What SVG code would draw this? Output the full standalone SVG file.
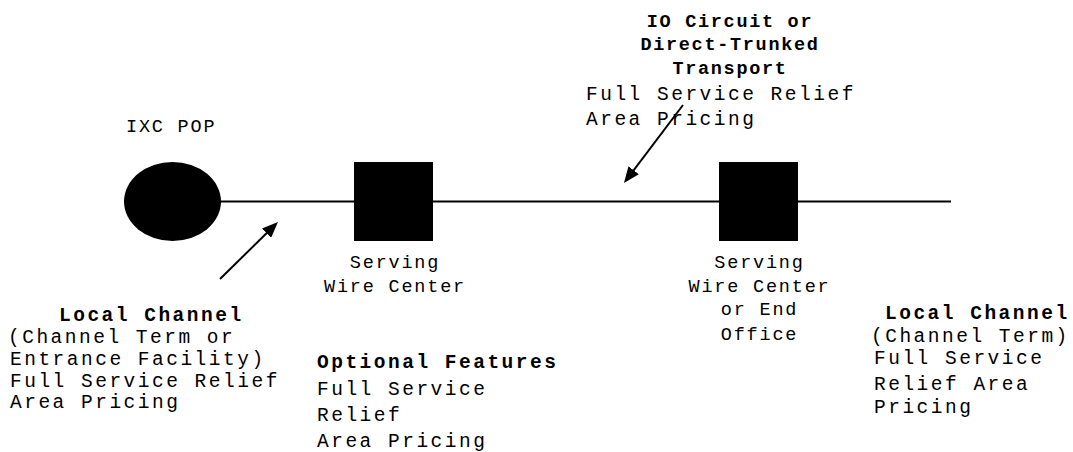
<svg xmlns="http://www.w3.org/2000/svg" width="1073" height="452" viewBox="0 0 1073 452">
<style>
  .body { font-family: "Liberation Mono", "Courier New", monospace; font-size: 19.5px; letter-spacing: 2.5px; fill: #000; }
  .bold { font-family: "Liberation Mono", "Courier New", monospace; font-size: 19.5px; letter-spacing: 2.5px; font-weight: bold; fill: #000; }
  .head { font-family: "Liberation Mono", "Courier New", monospace; font-size: 18.5px; letter-spacing: 1.7px; font-weight: bold; fill: #000; }
  .lbl { font-family: "Liberation Mono", "Courier New", monospace; font-size: 18.5px; letter-spacing: 1.8px; fill: #000; }
  .wire { stroke: #000; stroke-width: 2; fill: none; }
  .arrow { stroke: #000; stroke-width: 2; fill: none; marker-end: url(#ah); }
  .node { fill: #000; }
</style>
<defs>
  <marker id="ah" markerUnits="userSpaceOnUse" markerWidth="16" markerHeight="13" refX="12" refY="6.5" orient="auto">
    <path d="M0,0 L16,6.5 L0,13 z" fill="#000"/>
  </marker>
</defs>
<rect x="0" y="0" width="1073" height="452" fill="#fff"/>

<g id="connectors">
  <line class="wire" x1="221" y1="201.5" x2="354" y2="201.5"/>
  <line class="wire" x1="433" y1="201.5" x2="719" y2="201.5"/>
  <line class="wire" x1="798" y1="201.5" x2="951" y2="201.5"/>
  <line class="arrow" x1="220" y1="279" x2="275.1" y2="224.8"/>
  <line class="arrow" x1="683" y1="105" x2="626.4" y2="179.8"/>
</g>

<g id="ixc-pop">
  <ellipse class="node" cx="172.5" cy="201.5" rx="48.5" ry="39.5"/>
  <text class="lbl" x="126" y="132">IXC POP</text>
</g>

<g id="serving-wire-center">
  <rect class="node" x="354" y="162" width="79" height="79"/>
  <text class="lbl" text-anchor="middle" x="395" y="268">Serving</text>
  <text class="lbl" text-anchor="middle" x="395" y="292">Wire Center</text>
</g>

<g id="serving-wire-center-end-office">
  <rect class="node" x="719" y="162" width="79" height="79"/>
  <text class="lbl" text-anchor="middle" x="759.5" y="268">Serving</text>
  <text class="lbl" text-anchor="middle" x="759.5" y="292">Wire Center</text>
  <text class="lbl" text-anchor="middle" x="759.5" y="315">or End</text>
  <text class="lbl" text-anchor="middle" x="759.5" y="340">Office</text>
</g>

<g id="io-circuit-label">
  <text class="head" text-anchor="middle" x="730" y="27">IO Circuit or</text>
  <text class="head" text-anchor="middle" x="730" y="50">Direct-Trunked</text>
  <text class="head" text-anchor="middle" x="730" y="74">Transport</text>
  <text class="body" x="586" y="100">Full Service Relief</text>
  <text class="body" x="586" y="125">Area Pricing</text>
</g>

<g id="local-channel-left">
  <text class="bold" x="59" y="321">Local Channel</text>
  <text class="body" x="8" y="343">(Channel Term or</text>
  <text class="body" x="10" y="365">Entrance Facility)</text>
  <text class="body" x="10" y="387">Full Service Relief</text>
  <text class="body" x="10" y="408">Area Pricing</text>
</g>

<g id="optional-features">
  <text class="bold" x="317" y="368">Optional Features</text>
  <text class="body" x="317" y="395">Full Service</text>
  <text class="body" x="317" y="421">Relief</text>
  <text class="body" x="317" y="447">Area Pricing</text>
</g>

<g id="local-channel-right">
  <text class="bold" x="885" y="319">Local Channel</text>
  <text class="body" x="871" y="342">(Channel Term)</text>
  <text class="body" x="874" y="364">Full Service</text>
  <text class="body" x="874" y="390">Relief Area</text>
  <text class="body" x="874" y="413">Pricing</text>
</g>
</svg>
